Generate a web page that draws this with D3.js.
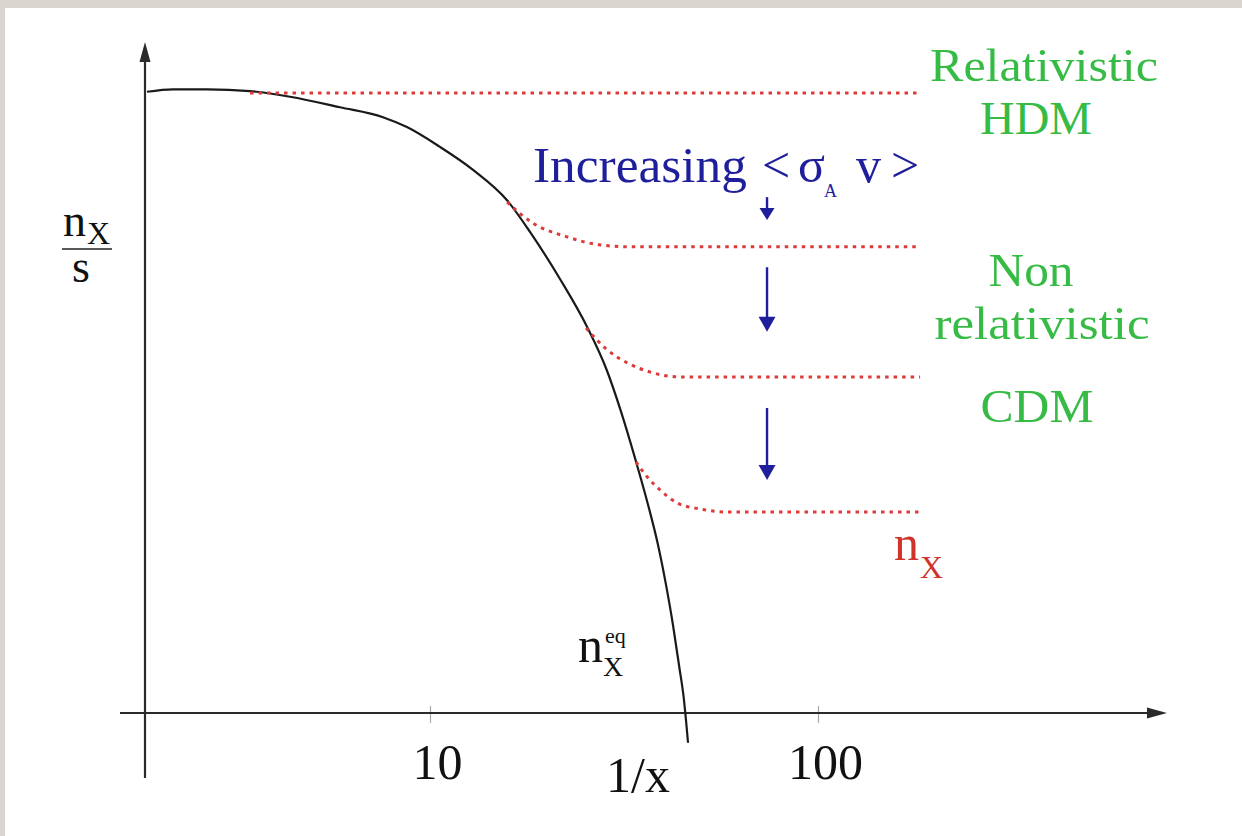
<!DOCTYPE html>
<html>
<head>
<meta charset="utf-8">
<script src="https://cdn.jsdelivr.net/npm/d3@7"></script>
<style>
  html, body { margin: 0; padding: 0; background: #d9d6d0; }
  svg { display: block; }
  text { font-family: "Liberation Serif", "DejaVu Serif", "Times New Roman", serif; }
</style>
</head>
<body>
<svg id="chart" width="1242" height="836"></svg>
<script>
// Equilibrium abundance n_X^eq / s against 1/x (log axis)
const eqX = [1.865, 2.176, 2.663, 3.437, 4.357, 5.86, 7.565, 8.72, 10.61, 12.91, 15.80,
             18.10, 21.63, 25.39, 28.59, 31.07, 33.76, 36.47, 38.70, 40.57, 42.29, 43.83, 45.14, 45.68, 46.24];
const eqY = [1.002, 1.006, 1.006, 1.003, 0.994, 0.977, 0.961, 0.945, 0.913, 0.876, 0.827,
             0.776, 0.700, 0.623, 0.552, 0.486, 0.411, 0.336, 0.271, 0.207, 0.142, 0.077, 0.021, -0.011, -0.048];

// Frozen-out relic abundances, one per annihilation cross-section
const hdmX = [3.437, 183.3];
const hdmY = [1.0, 1.0];
const nr1X = [15.80, 18.43, 22.55, 27.43, 32.78, 183.3];
const nr1Y = [0.824, 0.790, 0.768, 0.755, 0.752, 0.752];
const nr2X = [25.25, 28.59, 32.19, 36.9, 44.10, 183.3];
const nr2Y = [0.621, 0.586, 0.565, 0.550, 0.542, 0.542];
const nr3X = [33.96, 36.26, 39.15, 43.3, 49.65, 59.33, 183.3];
const nr3Y = [0.405, 0.381, 0.360, 0.339, 0.329, 0.324, 0.324];

// Arrows showing increasing <sigma_A v>
const arrowX = [73.9, 73.9, 73.9];
const arrowTop = [0.832, 0.719, 0.492];
const arrowBottom = [0.795, 0.615, 0.376];

// Axis ticks
const tickValues = [10, 100];
const tickLabels = ["10", "100"];

const serif = "'Liberation Serif', 'DejaVu Serif', 'Times New Roman', serif";
const svg = d3.select("#chart").attr("font-family", serif);
svg.append("rect").attr("x", 5).attr("y", 8).attr("width", 1237).attr("height", 828).attr("fill", "#ffffff");

const x = d3.scaleLog().domain([10, 100]).range([430, 818]);
const y = d3.scaleLinear().domain([0, 1]).range([713, 93]);

const axisColor = "#2a2a2a";
const x0 = 145;   // y-axis position
const yBase = y(0);

// tick marks and labels
const xAxis = d3.axisBottom(x).tickValues(tickValues).tickFormat((d, i) => tickLabels[i]).tickSize(10);
const gx = svg.append("g").attr("transform", `translate(0,${yBase})`).call(xAxis);
gx.attr("font-family", serif);
gx.select(".domain").remove();
gx.selectAll(".tick line").attr("y1", -7).attr("y2", 10).attr("stroke", "#aaaaaa").attr("stroke-width", 1.2);
gx.selectAll(".tick text")
  .attr("font-family", serif)
  .attr("font-size", 50).attr("fill", "#111").attr("dy", 0).attr("y", 66).attr("dx", 7);

// axes lines with arrowheads
svg.append("line").attr("x1", 120).attr("x2", 1150).attr("y1", yBase).attr("y2", yBase)
  .attr("stroke", axisColor).attr("stroke-width", 2.2);
svg.append("path").attr("d", `M1167,${yBase} L1147,${yBase - 5.5} L1147,${yBase + 5.5} Z`).attr("fill", axisColor);
svg.append("line").attr("x1", x0).attr("x2", x0).attr("y1", 778).attr("y2", 58)
  .attr("stroke", axisColor).attr("stroke-width", 2.2);
svg.append("path").attr("d", `M${x0},42 L${x0 - 5.5},62 L${x0 + 5.5},62 Z`).attr("fill", axisColor);

const line = d3.line().x(d => x(d[0])).y(d => y(d[1])).curve(d3.curveMonotoneX);

// equilibrium curve
svg.append("path").datum(d3.zip(eqX, eqY)).attr("d", line)
  .attr("fill", "none").attr("stroke", "#1a1a1a").attr("stroke-width", 2.2);

// freeze-out curves
[[hdmX, hdmY], [nr1X, nr1Y], [nr2X, nr2Y], [nr3X, nr3Y]].forEach(([xs, ys]) => {
  svg.append("path").datum(d3.zip(xs, ys)).attr("d", line)
    .attr("fill", "none").attr("stroke", "#dd3a3a").attr("stroke-width", 3)
    .attr("stroke-dasharray", "3.5,5");
});

// blue arrows
const blue = "#1f1f9c";
arrowX.forEach((ax, i) => {
  const px = x(ax), yt = y(arrowTop[i]), yb = y(arrowBottom[i]);
  const hh = i === 0 ? 12 : 15, hw = i === 0 ? 7.5 : 8.5;
  svg.append("line").attr("x1", px).attr("x2", px).attr("y1", yt).attr("y2", yb - hh + 2)
    .attr("stroke", blue).attr("stroke-width", 2.4);
  svg.append("path").attr("d", `M${px},${yb} L${px - hw},${yb - hh} L${px + hw},${yb - hh} Z`).attr("fill", blue);
});

// annotation text
const inc = svg.append("text").attr("x", 533).attr("y", 182).attr("font-size", 50).attr("fill", blue);
inc.append("tspan").attr("textLength", 214).attr("lengthAdjust", "spacingAndGlyphs").text("Increasing");
inc.append("tspan").attr("x", 762).text("<");
inc.append("tspan").attr("x", 798).text("σ");
inc.append("tspan").attr("x", 824).attr("y", 197).attr("font-size", 18).text("A");
inc.append("tspan").attr("x", 856).attr("y", 182).text("v");
inc.append("tspan").attr("x", 891).text(">");

// regime labels
const green = "#36bb45";
const greenLabels = [
  { t: "Relativistic", cx: 1044, by: 81, w: 228 },
  { t: "HDM", cx: 1036, by: 134, w: 112 },
  { t: "Non", cx: 1031, by: 286, w: 85 },
  { t: "relativistic", cx: 1042, by: 339, w: 215 },
  { t: "CDM", cx: 1037, by: 422, w: 113 }
];
greenLabels.forEach(g => {
  svg.append("text").attr("x", g.cx).attr("y", g.by).attr("text-anchor", "middle")
    .attr("font-size", 47).attr("fill", green)
    .attr("textLength", g.w).attr("lengthAdjust", "spacingAndGlyphs").text(g.t);
});

// relic label n_X
const nx = svg.append("text").attr("x", 894).attr("y", 560).attr("font-size", 50).attr("fill", "#d0332a");
nx.append("tspan").text("n");
nx.append("tspan").attr("x", 920).attr("y", 578).attr("font-size", 32).text("X");

// equilibrium label n_X^eq
svg.append("text").attr("x", 578).attr("y", 662).attr("font-size", 50).attr("fill", "#111").text("n");
svg.append("text").attr("x", 603).attr("y", 676).attr("font-size", 28).attr("fill", "#111").text("X");
svg.append("text").attr("x", 605).attr("y", 643).attr("font-size", 22).attr("fill", "#111").text("eq");

// x-axis title
svg.append("text").attr("x", 638).attr("y", 792).attr("text-anchor", "middle")
  .attr("font-size", 50).attr("fill", "#111").text("1/x");

// y-axis title n_X / s
const yl = svg.append("text").attr("x", 63).attr("y", 236).attr("font-size", 46).attr("fill", "#111");
yl.append("tspan").text("n");
yl.append("tspan").attr("x", 87).attr("y", 244).attr("font-size", 32).text("X");
svg.append("line").attr("x1", 62).attr("x2", 112).attr("y1", 249).attr("y2", 249)
  .attr("stroke", "#222").attr("stroke-width", 1.5);
svg.append("text").attr("x", 81).attr("y", 282).attr("text-anchor", "middle")
  .attr("font-size", 46).attr("fill", "#111").text("s");
</script>
</body>
</html>
